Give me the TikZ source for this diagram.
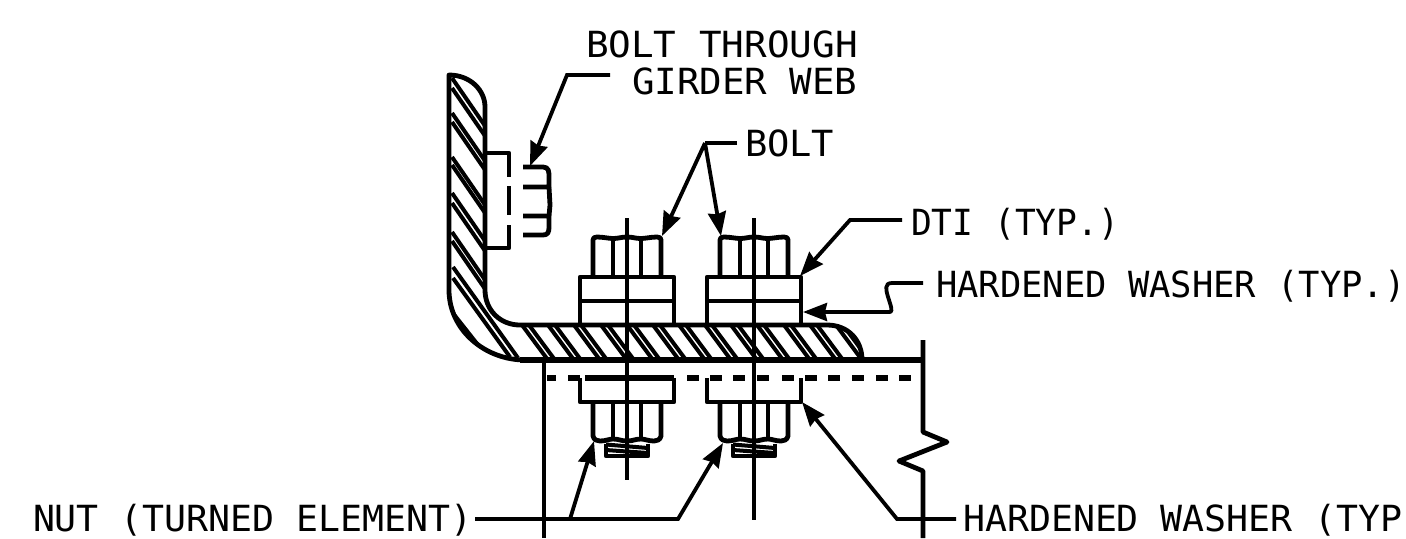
\documentclass[tikz,border=0pt]{standalone}
\usepackage{fontspec}
\setmainfont{DejaVu Sans Mono}
\usetikzlibrary{arrows.meta}
\newcommand{\cadtxt}[2]{\scalebox{#1}[1]{\fontsize{18}{20}\selectfont #2}}
\newcommand{\anglepath}{(449,75) .. controls (470,75) and (485,90) .. (485,107) -- (485,290) .. controls (485,310) and (500,325) .. (520,325) -- (827,325) .. controls (848,325) and (862,340) .. (862,360) -- (525,360) .. controls (485,360) and (449,330) .. (449,290) -- cycle}
\tikzset{
  x=0.5pt,y=-0.5pt,
  main/.style={line width=2.4pt,line join=round},
  heavy/.style={line width=3pt},
  hatchline/.style={line width=2pt},
  thin line/.style={line width=1.7pt},
  leader/.style={line width=1.9pt,line join=miter},
  tiparrow/.style={-{Stealth[length=12pt,width=9pt,inset=1pt]}},
  label/.style={anchor=base west,inner sep=0pt,outer sep=0pt},
}
\begin{document}
\begin{tikzpicture}
\useasboundingbox (0,0) rectangle (1406,538);
% hatching of the angle
\begin{scope}
\clip \anglepath;
\foreach \y in {78,88,113,122,157,165,193,203,232,241}
  \draw[hatchline] (452,\y) -- ++(40,58);
\draw[hatchline] (453,267) -- (518,358);
\draw[hatchline] (453,278) -- (510,357);
\draw[hatchline] (452,312) -- (482,350);
\draw[hatchline] (449,316) -- (477,352);
\foreach \x in {522,548,574,601,627,653,679,705,731,757,784,810,836}{
  \draw[hatchline] (\x,325) -- ++(26,35);
  \draw[hatchline] (\x+7,325) -- ++(26,35);
}
\end{scope}
% angle outline
\draw[main] \anglepath;
\draw[heavy] (520,360) -- (923,360);
% girder section
\draw[main] (923,340) -- (923,432) -- (947,442) -- (899,461) -- (923,471) -- (923,538);
\draw[main] (544,360) -- (544,538);
\draw[heavy] (547,378) -- (556,378);
\draw[heavy] (568,378) -- (580,378);
\draw[heavy] (585,378) -- (674,378);
\foreach \x in {687,710,733,757,782,805,828,852,876,899}
  \draw[heavy] (\x,378) -- ++(12,0);
% bolts through flange
\foreach \c/\e in {627/480,754/520}{
  \draw[thin line] (\c,218) -- (\c,\e);
  % head
  \draw[main] (\c-34,277) -- (\c-34,240) .. controls (\c-34,238) and (\c-33,237) .. (\c-30,237)
     .. controls (\c-24,237) and (\c-18,238.5) .. (\c-14,238.5)
     .. controls (\c-8,238.5) and (\c-6,237) .. (\c,237)
     .. controls (\c+6,237) and (\c+8,238.5) .. (\c+14,238.5)
     .. controls (\c+18,238.5) and (\c+24,237) .. (\c+30,237)
     .. controls (\c+33,237) and (\c+34,238) .. (\c+34,240) -- (\c+34,277);
  \draw[main] (\c-14,239) -- (\c-14,277);
  \draw[main] (\c+14,239) -- (\c+14,277);
  % DTI and washer
  \draw[main] (\c-47,325) -- (\c-47,277) -- (\c+47,277) -- (\c+47,325);
  \draw[main] (\c-47,301) -- (\c+47,301);
  % lower washer
  \draw[main] (\c-47,378) -- (\c-47,402) -- (\c+47,402) -- (\c+47,378);
  % nut
  \draw[main] (\c-34,402) -- (\c-34,436) .. controls (\c-33,440) and (\c-30,441) .. (\c-27,441)
     .. controls (\c-21,441) and (\c-18,439) .. (\c-14,439)
     .. controls (\c-8,439) and (\c-6,441) .. (\c,441)
     .. controls (\c+6,441) and (\c+8,439) .. (\c+14,439)
     .. controls (\c+18,439) and (\c+21,441) .. (\c+27,441)
     .. controls (\c+30,441) and (\c+33,440) .. (\c+34,436) -- (\c+34,402);
  \draw[main] (\c-14,402) -- (\c-14,439);
  \draw[main] (\c+14,402) -- (\c+14,439);
  % thread
  \draw[main] (\c-21,444) -- (\c-21,456) -- (\c+21,456) -- (\c+21,444);
  \draw[line width=2pt] (\c-21,444.5) -- (\c+21,448);
  \draw[line width=2pt] (\c-21,450) -- (\c+21,453);
}
% bolt through web
\draw[main] (485,153) -- (509,153) -- (509,177);
\draw[main] (509,186) -- (509,215);
\draw[main] (509,225) -- (509,248) -- (485,248);
\draw[main] (523,167) -- (543,167) .. controls (549,167) and (549,172) .. (549,177) -- (549,187) -- (523,187);
\draw[main] (549,187) -- (550,205) -- (549,216);
\draw[main] (523,216) -- (549,216) -- (549,227) .. controls (549,232) and (548,235) .. (543,235) -- (523,235);
% labels
\node[label] (lb1) at (586,57) {\cadtxt{1.045}{BOLT THROUGH}};
\node[label] (lb2) at (632,94) {\cadtxt{1.04}{GIRDER WEB}};
\node[label] (lb3) at (745,156) {\cadtxt{1.03}{BOLT}};
\node[label] (lb4) at (911,235) {\cadtxt{.96}{DTI (TYP.)}};
\node[label] (lb5) at (936,297) {\cadtxt{.985}{HARDENED WASHER (TYP.)}};
\node[label] (lb6) at (33,531) {\cadtxt{1.015}{NUT (TURNED ELEMENT)}};
\node[label] (lb7) at (963,531) {\cadtxt{1.015}{HARDENED WASHER (TYP}};
% leader points
\coordinate (c1a) at (610,75);
\coordinate (c1b) at (567,75);
\coordinate (t1) at (530,166);
\coordinate (c2a) at (737,143);
\coordinate (c2b) at (705,143);
\coordinate (t2a) at (662,236);
\coordinate (t2b) at (721,236);
\coordinate (c3a) at (902,220);
\coordinate (c3b) at (850,220);
\coordinate (t3) at (800,276);
\coordinate (c4a) at (923,283);
\coordinate (c4b) at (892,283);
\coordinate (c4c) at (890,312);
\coordinate (t4) at (803,312);
\coordinate (c5a) at (475,519);
\coordinate (c5b) at (570,519);
\coordinate (c5c) at (678,519);
\coordinate (t5a) at (594,441);
\coordinate (t5b) at (723,443);
\coordinate (c6a) at (956,519);
\coordinate (c6b) at (897,519);
\coordinate (t6) at (802,402);
% leaders
\draw[leader,tiparrow] (c1a) -- (c1b) -- (t1);
\draw[leader] (c2a) -- (c2b);
\draw[leader,tiparrow] (c2b) -- (t2a);
\draw[leader,tiparrow] (c2b) -- (t2b);
\draw[leader,tiparrow] (c3a) -- (c3b) -- (t3);
\draw[leader,line join=round,tiparrow] (c4a) -- (c4b) .. controls (884,283) and (886,290) .. (888,297) .. controls (891,306) and (893,312) .. (c4c) -- (t4);
\draw[leader,tiparrow] (c5a) -- (c5c) -- (t5b);
\draw[leader,tiparrow] (c5b) -- (t5a);
\draw[leader,tiparrow] (c6a) -- (c6b) -- (t6);
\end{tikzpicture}
\end{document}
